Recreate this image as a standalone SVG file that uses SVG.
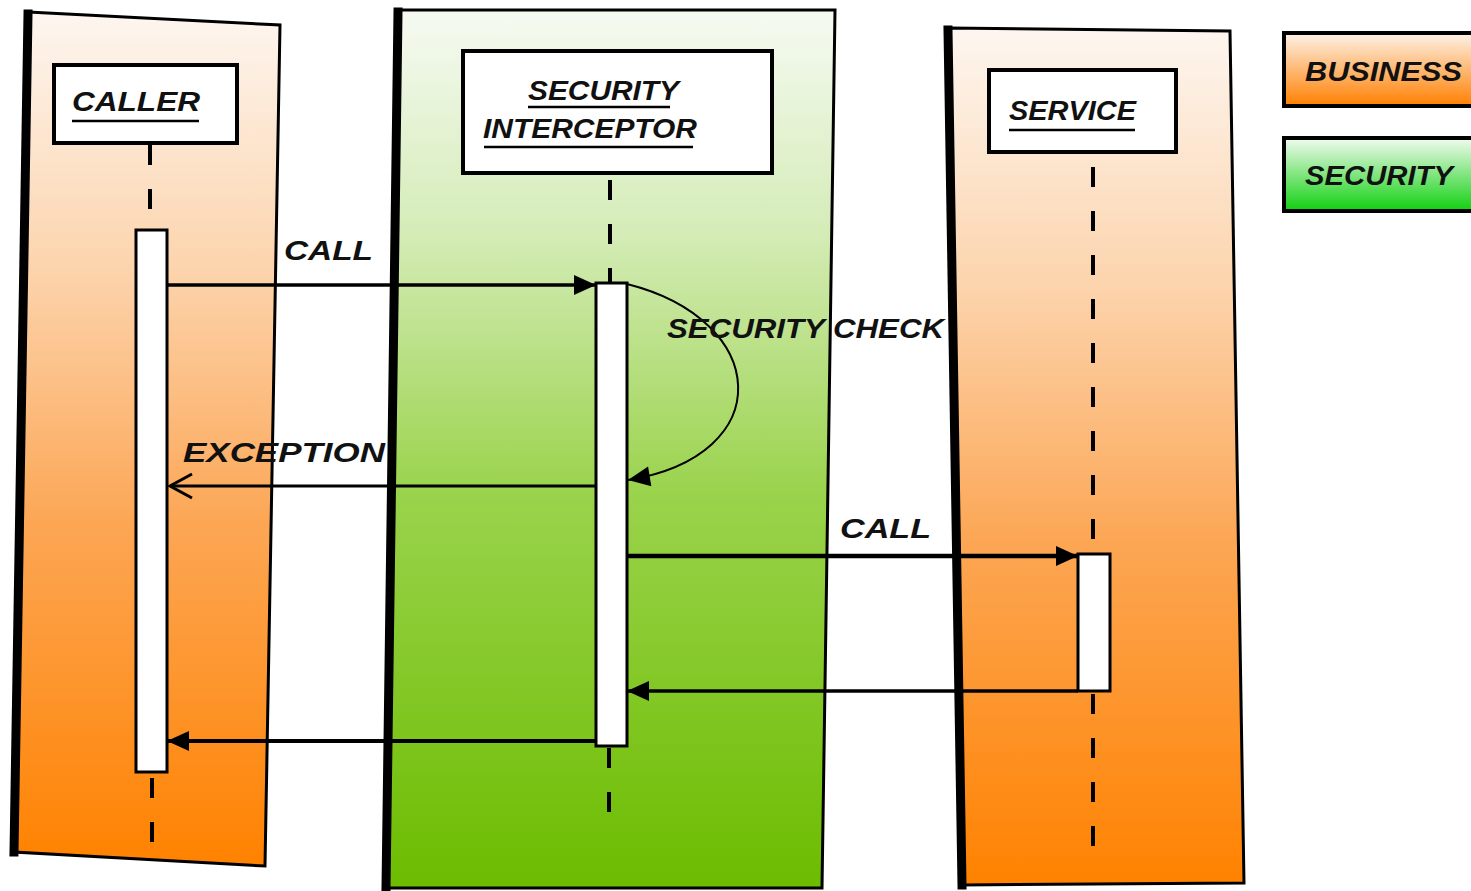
<svg xmlns="http://www.w3.org/2000/svg" width="1471" height="891" viewBox="0 0 1471 891">
<defs>
  <linearGradient id="gOrange" x1="0" y1="0" x2="0" y2="1">
    <stop offset="0" stop-color="#fdf6f0"/>
    <stop offset="0.3" stop-color="#fcd4ad"/>
    <stop offset="0.6" stop-color="#fca654"/>
    <stop offset="1" stop-color="#ff8200"/>
  </linearGradient>
  <linearGradient id="gGreen" x1="0" y1="0" x2="0" y2="1">
    <stop offset="0" stop-color="#f6faf2"/>
    <stop offset="0.25" stop-color="#d5ecb8"/>
    <stop offset="0.55" stop-color="#9ad34c"/>
    <stop offset="1" stop-color="#6cbc00"/>
  </linearGradient>
  <linearGradient id="gLegO" x1="0" y1="0" x2="0" y2="1">
    <stop offset="0" stop-color="#fdf2e8"/>
    <stop offset="1" stop-color="#ff7f00"/>
  </linearGradient>
  <linearGradient id="gLegG" x1="0" y1="0" x2="0" y2="1">
    <stop offset="0" stop-color="#f2fbf0"/>
    <stop offset="1" stop-color="#10d010"/>
  </linearGradient>
  <marker id="aFill" markerUnits="userSpaceOnUse" markerWidth="26" markerHeight="24" refX="24" refY="12" orient="auto">
    <path d="M2,2 L24,12 L2,22 Z" fill="#000"/>
  </marker>
  <marker id="aOpen" markerUnits="userSpaceOnUse" markerWidth="30" markerHeight="30" refX="26" refY="15" orient="auto">
    <path d="M4,3 L26,15 L4,27" fill="none" stroke="#000" stroke-width="3"/>
  </marker>
  <style>
    .lane { stroke: #000; stroke-width: 3; }
    .edge { stroke: #000; stroke-width: 9; stroke-linecap: square; }
    .head { fill: #fff; stroke: #000; stroke-width: 4; }
    .act { fill: #fff; stroke: #000; stroke-width: 3; }
    .life { stroke: #000; stroke-width: 4; stroke-dasharray: 20 24; fill: none; }
    .ul { stroke: #000; stroke-width: 2.5; }
    .t { font-family: "Liberation Sans", Arial, sans-serif; font-style: italic; font-weight: bold; font-size: 27px; fill: #111; }
    .msg { stroke: #000; fill: none; }
  </style>
</defs>

<!-- Lanes -->
<g id="lane-caller">
  <polygon class="lane" points="28,12 280,25 265,866 14,852" fill="url(#gOrange)"/>
  <line class="edge" x1="28" y1="14" x2="14" y2="852"/>
</g>
<g id="lane-security">
  <polygon class="lane" points="398,10 835,10 822,888 386,888" fill="url(#gGreen)"/>
  <line class="edge" x1="398" y1="12" x2="386" y2="888"/>
</g>
<g id="lane-service">
  <polygon class="lane" points="948,28 1230,31 1244,883 962,885" fill="url(#gOrange)"/>
  <line class="edge" x1="948" y1="30" x2="962" y2="885"/>
</g>

<!-- Legend -->
<g id="legend-business">
  <rect x="1284" y="33" width="200" height="73" fill="url(#gLegO)" stroke="#000" stroke-width="4"/>
  <text class="t" x="1305" y="81" textLength="157" lengthAdjust="spacingAndGlyphs">BUSINESS</text>
</g>
<g id="legend-security">
  <rect x="1284" y="138" width="200" height="73" fill="url(#gLegG)" stroke="#000" stroke-width="4"/>
  <text class="t" x="1305" y="185" textLength="148" lengthAdjust="spacingAndGlyphs">SECURITY</text>
</g>

<!-- Caller lifeline -->
<g id="caller">
  <rect class="head" x="54" y="65" width="183" height="78"/>
  <text class="t" x="72" y="111" textLength="128" lengthAdjust="spacingAndGlyphs">CALLER</text>
  <line class="ul" x1="72" y1="121" x2="199" y2="121"/>
  <line class="life" x1="150" y1="145" x2="150" y2="230"/>
  <line class="life" x1="152" y1="778" x2="152" y2="842" stroke-dasharray="16 26"/>
  <rect class="act" x="136" y="230" width="31" height="542"/>
</g>

<!-- Security interceptor lifeline -->
<g id="security-interceptor">
  <rect class="head" x="463" y="51" width="309" height="122"/>
  <text class="t" x="528" y="100" textLength="151" lengthAdjust="spacingAndGlyphs">SECURITY</text>
  <line class="ul" x1="528" y1="107" x2="670" y2="107"/>
  <text class="t" x="483" y="138" textLength="214" lengthAdjust="spacingAndGlyphs">INTERCEPTOR</text>
  <line class="ul" x1="484" y1="147" x2="693" y2="147"/>
  <line class="life" x1="610" y1="180" x2="610" y2="283"/>
  <line class="life" x1="609" y1="748" x2="609" y2="836" stroke-dasharray="20 40"/>
  <rect class="act" x="596" y="283" width="31" height="463"/>
</g>

<!-- Service lifeline -->
<g id="service">
  <rect class="head" x="989" y="70" width="187" height="82"/>
  <text class="t" x="1009" y="120" textLength="127" lengthAdjust="spacingAndGlyphs">SERVICE</text>
  <line class="ul" x1="1009" y1="130" x2="1135" y2="130"/>
  <line class="life" x1="1093" y1="167" x2="1093" y2="553"/>
  <line class="life" x1="1093" y1="694" x2="1093" y2="850"/>
  <rect class="act" x="1078" y="554" width="32" height="137"/>
</g>

<!-- Connectors -->
<g id="connectors">
  <line class="msg" x1="167" y1="285" x2="596" y2="285" stroke-width="3.5" marker-end="url(#aFill)"/>
  <path class="msg" d="M627,284 C770,320 780,455 628,480" stroke-width="2" marker-end="url(#aFill)"/>
  <line class="msg" x1="596" y1="486" x2="170" y2="486" stroke-width="3" marker-end="url(#aOpen)"/>
  <line class="msg" x1="627" y1="556" x2="1078" y2="556" stroke-width="4.5" marker-end="url(#aFill)"/>
  <line class="msg" x1="1078" y1="691" x2="627" y2="691" stroke-width="3.5" marker-end="url(#aFill)"/>
  <line class="msg" x1="596" y1="741" x2="167" y2="741" stroke-width="4" marker-end="url(#aFill)"/>
</g>

<!-- Message labels -->
<g id="labels">
  <text class="t" x="284" y="260" textLength="89" lengthAdjust="spacingAndGlyphs">CALL</text>
  <text class="t" x="667" y="338" textLength="277" lengthAdjust="spacingAndGlyphs">SECURITY CHECK</text>
  <text class="t" x="183" y="462" textLength="202" lengthAdjust="spacingAndGlyphs">EXCEPTION</text>
  <text class="t" x="840" y="538" textLength="91" lengthAdjust="spacingAndGlyphs">CALL</text>
</g>
</svg>
